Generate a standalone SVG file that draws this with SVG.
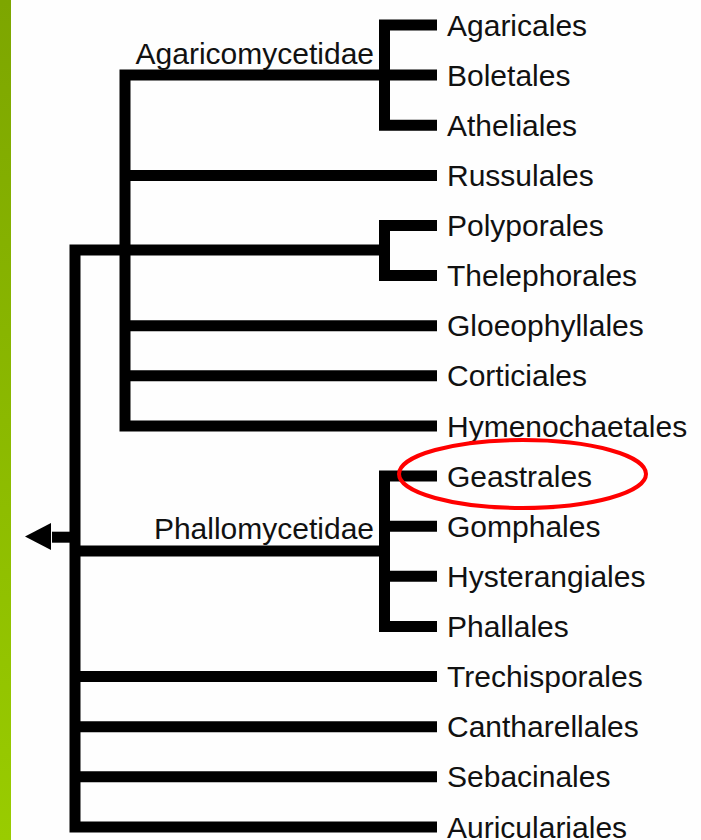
<svg xmlns="http://www.w3.org/2000/svg" width="701" height="840" viewBox="0 0 701 840">
<defs>
<linearGradient id="bar" x1="0" y1="0" x2="0" y2="1">
<stop offset="0" stop-color="#7da600"/>
<stop offset="1" stop-color="#99cc00"/>
</linearGradient>
</defs>
<style>
.br{fill:none;stroke:#000;stroke-width:11;stroke-linejoin:miter;stroke-linecap:butt}
.lb{font-family:"Liberation Sans",Arial,sans-serif;font-size:30px;fill:#111}
.cl{font-family:"Liberation Sans",Arial,sans-serif;font-size:30px;fill:#111;text-anchor:end}
</style>
<rect x="0" y="0" width="701" height="840" fill="#fefefe"/>
<rect x="0" y="0" width="11" height="840" fill="url(#bar)"/>
<g id="connectors">
<path class="br" d="M384.5,75 H125 V426 H437"/>
<path class="br" d="M437,25 H384.5 V125.2 H437"/>
<path class="br" d="M384.5,75 H437"/>
<path class="br" d="M125,175.4 H437"/>
<path class="br" d="M384.5,250 H75 V827 H437"/>
<path class="br" d="M437,225.5 H384.5 V275.6 H437"/>
<path class="br" d="M125,325.7 H437"/>
<path class="br" d="M125,375.8 H437"/>
<path class="br" d="M75,551 H384.5"/>
<path class="br" d="M437,476 H384.5 V626.4 H437"/>
<path class="br" d="M384.5,526.2 H437"/>
<path class="br" d="M384.5,576.3 H437"/>
<path class="br" d="M75,676.6 H437"/>
<path class="br" d="M75,726.7 H437"/>
<path class="br" d="M75,776.8 H437"/>
<rect x="52" y="531.7" width="18" height="11" fill="#000"/>
<polygon points="25,536.5 51,523 51,550" fill="#000"/>
</g>
<g id="clade-agaricomycetidae"><text class="cl" x="374" y="63.5">Agaricomycetidae</text></g>
<g id="clade-phallomycetidae"><text class="cl" x="374" y="539">Phallomycetidae</text></g>
<g id="agaricales"><text class="lb" x="447" y="35.5">Agaricales</text></g>
<g id="boletales"><text class="lb" x="447" y="85.5">Boletales</text></g>
<g id="atheliales"><text class="lb" x="447" y="135.7">Atheliales</text></g>
<g id="russulales"><text class="lb" x="447" y="185.9">Russulales</text></g>
<g id="polyporales"><text class="lb" x="447" y="236">Polyporales</text></g>
<g id="thelephorales"><text class="lb" x="447" y="286.1">Thelephorales</text></g>
<g id="gloeophyllales"><text class="lb" x="447" y="336.2">Gloeophyllales</text></g>
<g id="corticiales"><text class="lb" x="447" y="386.3">Corticiales</text></g>
<g id="hymenochaetales"><text class="lb" x="447" y="436.5">Hymenochaetales</text></g>
<g id="geastrales"><text class="lb" x="447" y="486.5">Geastrales</text>
<ellipse cx="522.5" cy="474" rx="123.5" ry="34" fill="none" stroke="#f00" stroke-width="4"/></g>
<g id="gomphales"><text class="lb" x="447" y="536.7">Gomphales</text></g>
<g id="hysterangiales"><text class="lb" x="447" y="586.8">Hysterangiales</text></g>
<g id="phallales"><text class="lb" x="447" y="636.9">Phallales</text></g>
<g id="trechisporales"><text class="lb" x="447" y="687.1">Trechisporales</text></g>
<g id="cantharellales"><text class="lb" x="447" y="737.2">Cantharellales</text></g>
<g id="sebacinales"><text class="lb" x="447" y="787.3">Sebacinales</text></g>
<g id="auriculariales"><text class="lb" x="447" y="837.5">Auriculariales</text></g>
</svg>
